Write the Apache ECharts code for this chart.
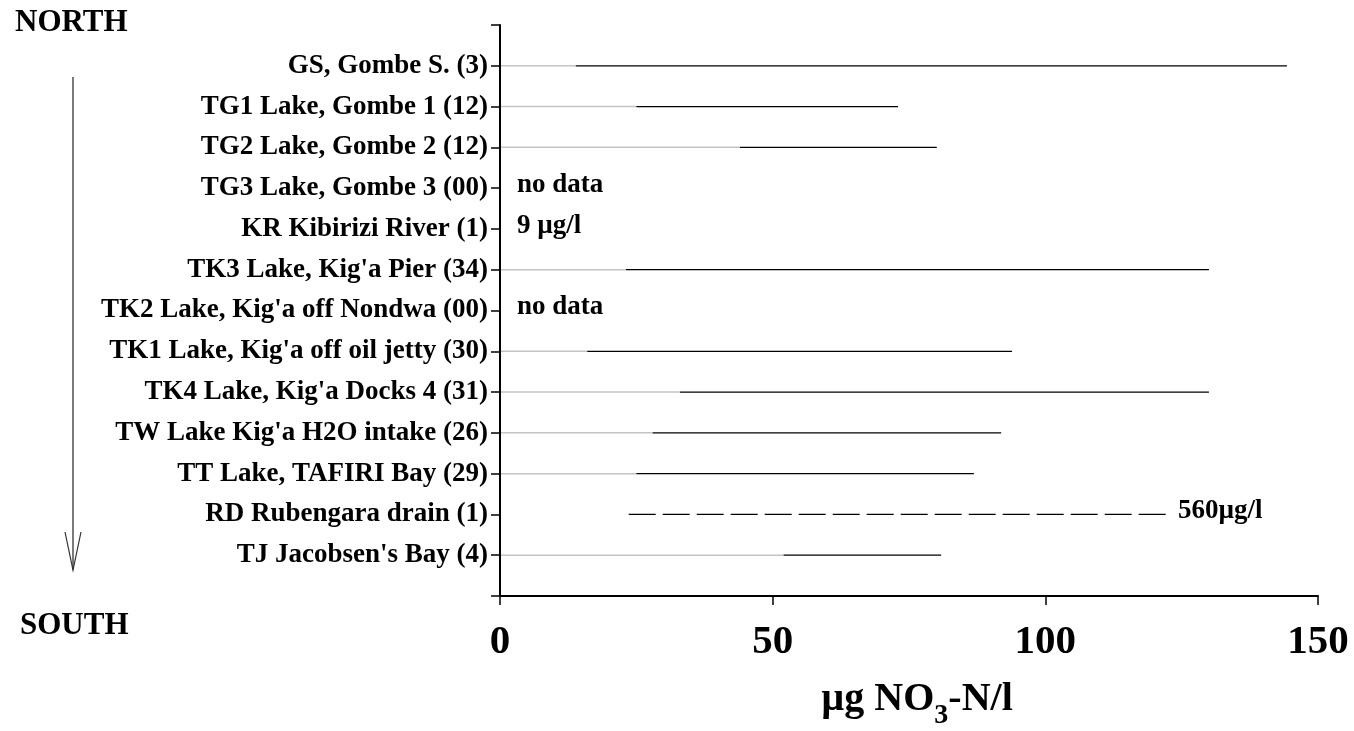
<!DOCTYPE html>
<html>
<head>
<meta charset="utf-8">
<script src="https://cdn.jsdelivr.net/npm/echarts@6/dist/echarts.min.js"></script>
<style>
html,body{margin:0;padding:0;background:#fff;overflow:hidden;}
#chart{width:1354px;height:731px;}
</style>
</head>
<body>
<div id="chart"></div>
<script>
// ---- data ----
const sites = [
  "GS, Gombe S. (3)",
  "TG1 Lake, Gombe 1 (12)",
  "TG2 Lake, Gombe 2 (12)",
  "TG3 Lake, Gombe 3 (00)",
  "KR Kibirizi River (1)",
  "TK3 Lake, Kig'a Pier (34)",
  "TK2 Lake, Kig'a off Nondwa (00)",
  "TK1 Lake, Kig'a off oil jetty (30)",
  "TK4 Lake, Kig'a Docks 4 (31)",
  "TW Lake Kig'a H2O intake (26)",
  "TT Lake, TAFIRI Bay (29)",
  "RD Rubengara drain (1)",
  "TJ Jacobsen's Bay (4)"
];
const minValues = [13.9, 25.0, 44.0, null, null, 23.1, null, 16.0, 33.0, 28.0, 25.0, 23.6, 52.0];
const maxValues = [144.3, 73.0, 80.1, null, null, 130.0, null, 93.9, 130.0, 91.9, 86.9, 122.5, 80.9];
const dashedRows = [false, false, false, false, false, false, false, false, false, false, false, true, false];
const notes = ["", "", "", "no data", "9 \u00b5g/l", "", "no data", "", "", "", "", "560\u00b5g/l", ""];
const xTicks = [0, 50, 100, 150];

const FONT = "'Liberation Serif', 'Times New Roman', serif";

const seriesData = sites.map((s, i) => [i + 1, minValues[i], maxValues[i], i]);

const chart = echarts.init(document.getElementById('chart'));
chart.setOption({
  animation: false,
  backgroundColor: '#ffffff',
  grid: { left: 500, top: 25, width: 818, height: 571, containLabel: false, outerBoundsMode: 'none' },
  xAxis: {
    type: 'value',
    min: xTicks[0], max: xTicks[xTicks.length - 1], interval: 50,
    splitLine: { show: false },
    axisLine: { show: true, onZero: false, lineStyle: { color: '#000', width: 2 } },
    axisTick: { show: true, length: 9, lineStyle: { color: '#000', width: 1.5 } },
    axisLabel: { fontFamily: FONT, fontWeight: 'bold', fontSize: 41, color: '#000', margin: 26 },
    name: '\u00b5g NO{sub|3}-N/l',
    nameLocation: 'middle',
    nameGap: 74,
    nameTextStyle: {
      fontFamily: FONT, fontWeight: 'bold', fontSize: 40, color: '#000',
      padding: [0, 0, 0, 16],
      rich: {
        sub: { fontFamily: FONT, fontWeight: 'bold', fontSize: 28, color: '#000', padding: [32, 0, 0, 0] }
      }
    }
  },
  yAxis: {
    type: 'value',
    inverse: true,
    min: 0, max: sites.length + 1, interval: 1,
    splitLine: { show: false },
    axisLine: { show: true, onZero: false, lineStyle: { color: '#000', width: 2 } },
    axisTick: { show: true, length: 9, lineStyle: { color: '#000', width: 1.5 } },
    axisLabel: {
      fontFamily: FONT, fontWeight: 'bold', fontSize: 27, color: '#000', margin: 12,
      formatter: function (v) { return (v >= 1 && v <= sites.length) ? sites[v - 1] : ''; }
    }
  },
  series: [{
    type: 'custom',
    data: seriesData,
    encode: { x: [1, 2], y: 0 },
    renderItem: function (params, api) {
      const row = api.value(0);
      const idx = api.value(3);
      const lo = minValues[idx];
      const hi = maxValues[idx];
      const children = [];
      if (lo != null && hi != null) {
        const p0 = api.coord([0, row]);
        const p1 = api.coord([lo, row]);
        const p2 = api.coord([hi, row]);
        if (!dashedRows[idx]) {
          children.push({
            type: 'line',
            shape: { x1: p0[0] + 1, y1: p0[1], x2: p1[0], y2: p1[1] },
            style: { stroke: '#c4c4c4', lineWidth: 1.5 }
          });
          children.push({
            type: 'line',
            shape: { x1: p1[0], y1: p1[1], x2: p2[0], y2: p2[1] },
            style: { stroke: '#000', lineWidth: 1.3 }
          });
        } else {
          children.push({
            type: 'line',
            shape: { x1: p1[0], y1: p1[1], x2: p2[0], y2: p2[1] },
            style: { stroke: '#000', lineWidth: 1.3, lineDash: [27, 7] }
          });
        }
      }
      if (notes[idx]) {
        let pos;
        if (hi != null) {
          pos = api.coord([hi, row]);
          pos = [pos[0] + 10, pos[1]];
        } else {
          pos = api.coord([0, row]);
          pos = [pos[0] + 17, pos[1]];
        }
        children.push({
          type: 'text',
          x: pos[0], y: pos[1] - 3,
          style: {
            text: notes[idx], fill: '#000',
            font: 'bold 27px ' + FONT,
            textAlign: 'left', textVerticalAlign: 'middle'
          }
        });
      }
      return { type: 'group', children: children };
    }
  }],
  graphic: [
    { type: 'text', left: 15, top: 7, style: { text: 'NORTH', font: 'bold 31px ' + FONT, fill: '#000' } },
    { type: 'text', left: 20, top: 610, style: { text: 'SOUTH', font: 'bold 31px ' + FONT, fill: '#000' } },
    { type: 'line', shape: { x1: 73, y1: 77, x2: 73, y2: 570 }, style: { stroke: '#333', lineWidth: 1.3 } },
    { type: 'polyline', shape: { points: [[65, 532], [73, 570], [81, 532]] }, style: { stroke: '#333', lineWidth: 1.2, fill: null } }
  ]
});
</script>
</body>
</html>
